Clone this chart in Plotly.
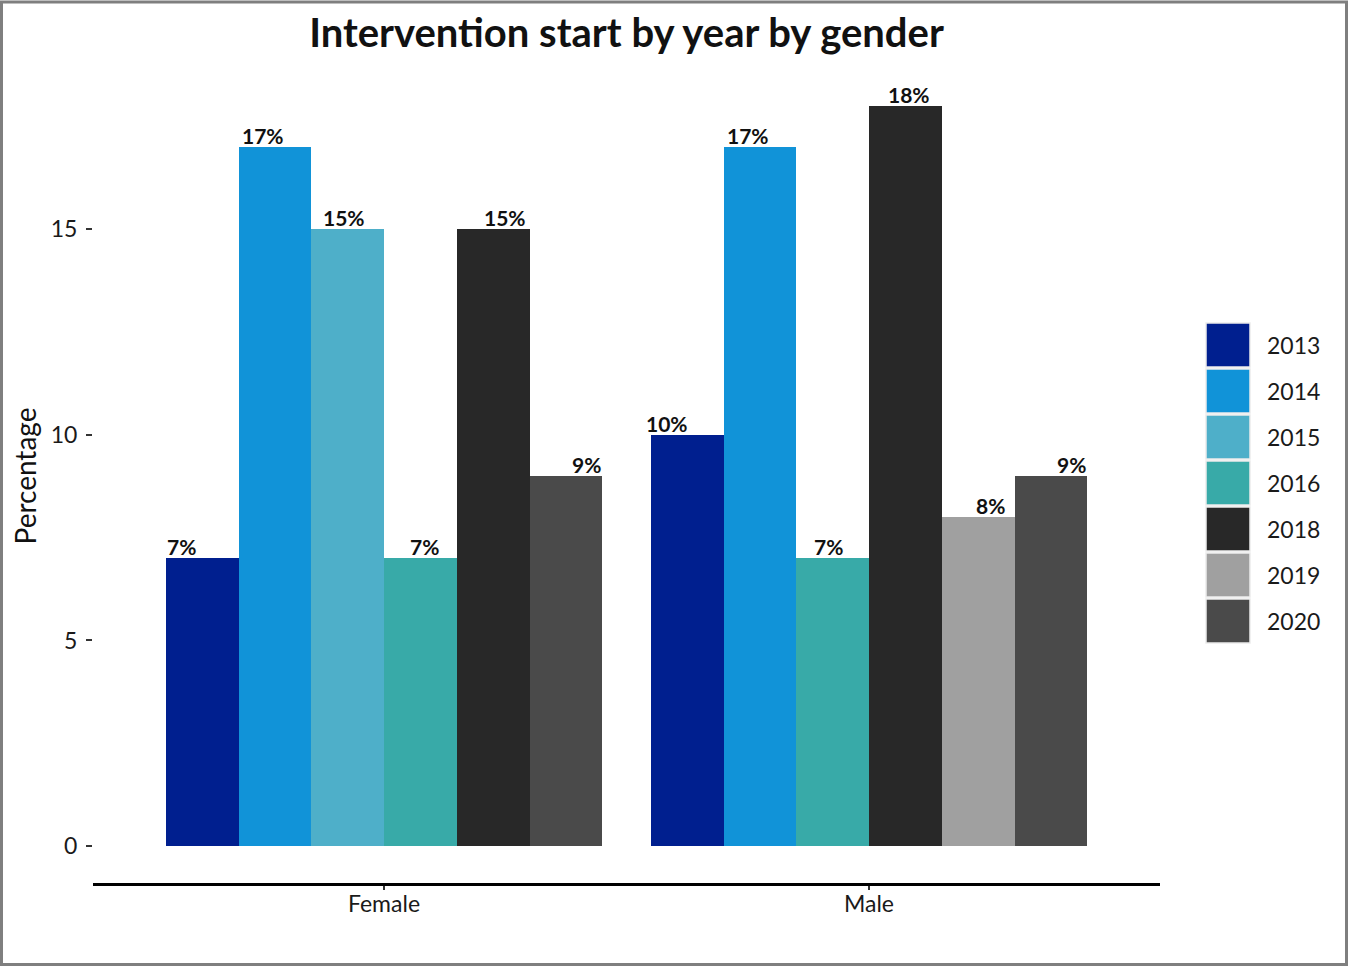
import plotly.graph_objects as go

# Share of interventions started, by year and gender (percent)
genders = ["Female", "Male"]
years = ["2013", "2014", "2015", "2016", "2018", "2019", "2020"]
colors = ["#001f8f", "#1193d8", "#4eafc9", "#38aaa8", "#282828", "#a0a0a0", "#4a4a4a"]

female_pct = {"2013": 7, "2014": 17, "2015": 15, "2016": 7, "2018": 15, "2020": 9}
male_pct = {"2013": 10, "2014": 17, "2016": 7, "2018": 18, "2019": 8, "2020": 9}
values_by_gender = {"Female": female_pct, "Male": male_pct}

W, H = 1350, 966
ML, MR, MT, MB = 93, 190, 69, 83
PW, PH = W - ML - MR, H - MT - MB

FONT = "Lato"
BAR_DODGE = 0.9
TEXT_DODGE = 1.0


def px_x(px):
    return (px - ML) / PW


def px_y(py):
    return (H - MB - py) / PH


fig = go.Figure()
labels = []

# dodge bars within each gender among the years that are present
for yr, col in zip(years, colors):
    xs, ys = [], []
    for gi, g in enumerate(genders):
        present = [y for y in years if y in values_by_gender[g]]
        if yr not in present:
            continue
        n = len(present)
        i = present.index(yr)
        centre = gi + 1
        xs.append(centre + (i - (n - 1) / 2) * BAR_DODGE / n)
        ys.append(values_by_gender[g][yr])
        labels.append(dict(
            x=centre + (i - (n - 1) / 2) * TEXT_DODGE / n,
            y=values_by_gender[g][yr],
            text=f"<b>{values_by_gender[g][yr]}%</b>",
        ))
    fig.add_trace(go.Bar(
        x=xs, y=ys, width=BAR_DODGE / 6, name=yr,
        marker=dict(color=col, line=dict(width=0)),
        showlegend=False,
    ))

annotations = []
for lab in labels:
    annotations.append(dict(
        x=lab["x"], y=lab["y"], xref="x", yref="y", text=lab["text"],
        showarrow=False, yanchor="bottom", xanchor="center", yshift=-3,
        font=dict(family=FONT, size=21, color="#111111"),
    ))

# legend keys drawn as large squares with labels
shapes = []
key_top, key_step, key_size = 323, 46, 44
for k, (yr, col) in enumerate(zip(years, colors)):
    top = key_top + k * key_step
    shapes.append(dict(
        type="rect", xref="paper", yref="paper",
        x0=px_x(1206), x1=px_x(1250), y0=px_y(top + key_size), y1=px_y(top),
        fillcolor=col, line=dict(color="#ebebeb", width=1.5), layer="above",
    ))
    annotations.append(dict(
        x=px_x(1265), y=px_y(top + key_size / 2), xref="paper", yref="paper",
        text=yr, showarrow=False, xanchor="left", yanchor="middle",
        font=dict(family=FONT, size=23, color="#1a1a1a"),
    ))

# outer frame
shapes.append(dict(
    type="rect", xref="paper", yref="paper",
    x0=px_x(1.5), x1=px_x(1346.5), y0=px_y(964.5), y1=px_y(2),
    line=dict(color="#7f7f7f", width=3), fillcolor="rgba(0,0,0,0)", layer="below",
))

fig.update_layout(
    width=W, height=H,
    margin=dict(l=ML, r=MR, t=MT, b=MB, pad=0),
    paper_bgcolor="white", plot_bgcolor="white",
    barmode="overlay", bargap=0,
    title=dict(
        text="<b>Intervention start by year by gender</b>",
        x=px_x(626.5), xref="paper", xanchor="center",
        y=1 - 33 / H, yref="container", yanchor="middle",
        font=dict(family=FONT, size=40, color="#111111"),
    ),
    xaxis=dict(
        range=[0.4, 2.6], tickvals=[1, 2], ticktext=genders,
        showgrid=False, zeroline=False,
        showline=True, linecolor="black", linewidth=2.5,
        ticks="outside", ticklen=4, tickwidth=2, tickcolor="#333333",
        ticklabelstandoff=-5,
        tickfont=dict(family=FONT, size=23, color="#1a1a1a"),
    ),
    yaxis=dict(
        range=[-0.9, 18.9], tickvals=[0, 5, 10, 15],
        showgrid=False, zeroline=False, showline=False,
        ticks="outside", ticklen=6, tickwidth=2, tickcolor="#333333",
        ticklabelstandoff=4,
        tickfont=dict(family=FONT, size=23, color="#1a1a1a"),
        title=dict(text="Percentage", standoff=5,
                   font=dict(family=FONT, size=28, color="#111111")),
    ),
    annotations=annotations,
    shapes=shapes,
    font=dict(family=FONT),
)

fig.write_html("out.html")
